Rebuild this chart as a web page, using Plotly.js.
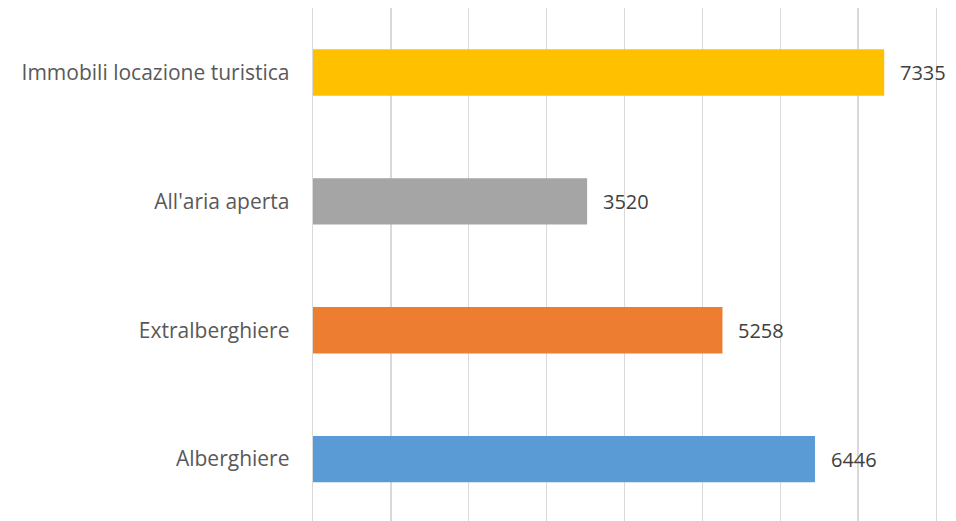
<!DOCTYPE html>
<html>
<head>
<meta charset="utf-8">
<script src="https://cdn.plot.ly/plotly-3.0.1.min.js"></script>
<style>html,body{margin:0;padding:0;background:#fff;}#chart{width:956px;height:521px;}</style>
</head>
<body>
<div id="chart"></div>
<script>
const categories = ["Alberghiere", "Extralberghiere", "All'aria aperta", "Immobili locazione turistica"];
const values = [6446, 5258, 3520, 7335];
const barColors = ["#5B9BD5", "#ED7D31", "#A5A5A5", "#FFC000"];

const trace = {
  type: 'bar',
  orientation: 'h',
  y: categories,
  x: values,
  marker: {color: barColors},
  width: 0.36,
  hoverinfo: 'none'
};

const annotations = categories.map((c, i) => ({
  x: values[i], y: c, xref: 'x', yref: 'y',
  text: String(values[i]), showarrow: false,
  xanchor: 'left', xshift: 14,
  font: {family: 'Open Sans, sans-serif', size: 20, color: '#404040'}
}));

const layout = {
  width: 956, height: 521,
  margin: {l: 313, r: 20, t: 7.5, b: 0},
  paper_bgcolor: '#fff', plot_bgcolor: '#fff',
  showlegend: false,
  xaxis: {
    range: [0, 8000], dtick: 1000,
    showgrid: true, gridcolor: '#d9d9d9', gridwidth: 1.3,
    showticklabels: false, zeroline: false, showline: false, ticks: ''
  },
  yaxis: {
    type: 'category', range: [-0.48, 3.5], showgrid: false, zeroline: false,
    showline: true, mirror: true, linecolor: '#d9d9d9', linewidth: 1.3,
    ticks: '', ticklabelstandoff: 18,
    tickfont: {family: 'Open Sans, sans-serif', size: 21, color: '#595959'}
  },
  annotations: annotations
};

Plotly.newPlot('chart', [trace], layout, {displayModeBar: false, staticPlot: true});
</script>
</body>
</html>
